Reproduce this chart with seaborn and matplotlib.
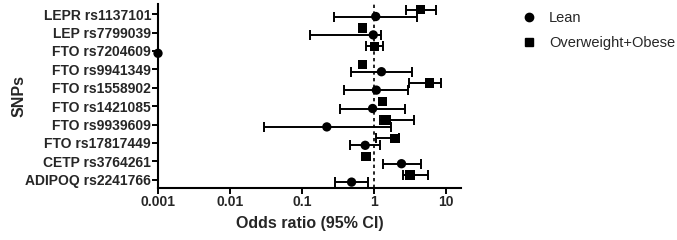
import numpy as np
import pandas as pd
import seaborn as sns
import matplotlib
matplotlib.use("Agg")
import matplotlib.pyplot as plt
from matplotlib.lines import Line2D

# data
snps = ["LEPR rs1137101", "LEP rs7799039", "FTO rs7204609", "FTO rs9941349",
        "FTO rs1558902", "FTO rs1421085", "FTO rs9939609", "FTO rs17817449",
        "CETP rs3764261", "ADIPOQ rs2241766"]

lean_or = [1.05, 0.97, 0.001, 1.26, 1.07, 0.95, 0.22, 0.75, 2.39, 0.485]
lean_lo = [0.28, 0.13, np.nan, 0.476, 0.376, 0.335, 0.030, 0.46, 1.33, 0.29]
lean_hi = [3.9, 1.24, np.nan, 3.3, 2.95, 2.66, 1.7, 1.21, 4.4, 0.83]

obese_or = [4.4, 0.69, 1.0, 0.69, 5.9, 1.30, 1.45, 1.95, 0.77, 3.15]
obese_lo = [2.8, np.nan, 0.77, np.nan, 3.05, np.nan, 1.2, 1.05, np.nan, 2.52]
obese_hi = [7.1, np.nan, 1.32, np.nan, 8.5, np.nan, 3.57, 2.2, np.nan, 5.5]

groups = ["Lean", "Overweight+Obese"]

rows = []
for i, s in enumerate(snps):
    rows.append(dict(snp=s, group="Lean", pos=i + 0.13,
                     OR=lean_or[i], lo=lean_lo[i], hi=lean_hi[i]))
    rows.append(dict(snp=s, group="Overweight+Obese", pos=i - 0.25,
                     OR=obese_or[i], lo=obese_lo[i], hi=obese_hi[i]))
df = pd.DataFrame(rows)

sns.set_style("ticks")
plt.rcParams['font.family'] = ['Liberation Sans', 'DejaVu Sans']

fig = plt.figure(figsize=(6.77, 2.40), dpi=100)
ax = fig.add_axes([158 / 677, 1 - 188 / 240, (461 - 158) / 677, (188 - 4) / 240])

# confidence intervals
ci = df.dropna(subset=["lo"])
ax.errorbar(ci["OR"], ci["pos"],
            xerr=[ci["OR"] - ci["lo"], ci["hi"] - ci["OR"]],
            fmt="none", ecolor="black", elinewidth=1.4, capsize=3.5,
            capthick=1.4, zorder=2)

sns.scatterplot(data=df, x="OR", y="pos", style="group",
                markers={"Lean": "o", "Overweight+Obese": "s"},
                color="black", s=45, edgecolor="black", linewidth=0,
                legend=False, ax=ax, zorder=3, clip_on=False)

ax.axvline(1, color="black", linestyle=(0, (2, 2)), linewidth=1.2, zorder=1)

ax.set_xscale("log")
ax.set_xlim(0.001, 16)
ax.set_xticks([0.001, 0.01, 0.1, 1, 10])
ax.set_xticklabels(["0.001", "0.01", "0.1", "1", "10"])
ax.minorticks_off()
ax.set_ylim(9.45, -0.55)
ax.set_yticks(range(len(snps)))
ax.set_yticklabels(snps)

for lbl in ax.get_xticklabels() + ax.get_yticklabels():
    lbl.set_fontweight("bold")
    lbl.set_fontsize(10)

ax.tick_params(axis="both", width=1.4, length=4, pad=1, color="black")
for sp in ["left", "bottom"]:
    ax.spines[sp].set_linewidth(1.5)
    ax.spines[sp].set_color("black")
sns.despine(ax=ax)

ax.set_xlabel("Odds ratio (95% CI)", fontsize=11.5, fontweight="bold", labelpad=5)
ax.set_ylabel("SNPs", fontsize=11.5, fontweight="bold", labelpad=-1)

handles = [Line2D([], [], marker="o", color="black", linestyle="none", markersize=6),
           Line2D([], [], marker="s", color="black", linestyle="none", markersize=5.5)]
fig.legend(handles, groups, loc="upper left", bbox_to_anchor=(0.74, 1.007),
           frameon=False, fontsize=10.5, handletextpad=0.4, labelspacing=0.7)

fig.savefig("out.png", dpi=100)
